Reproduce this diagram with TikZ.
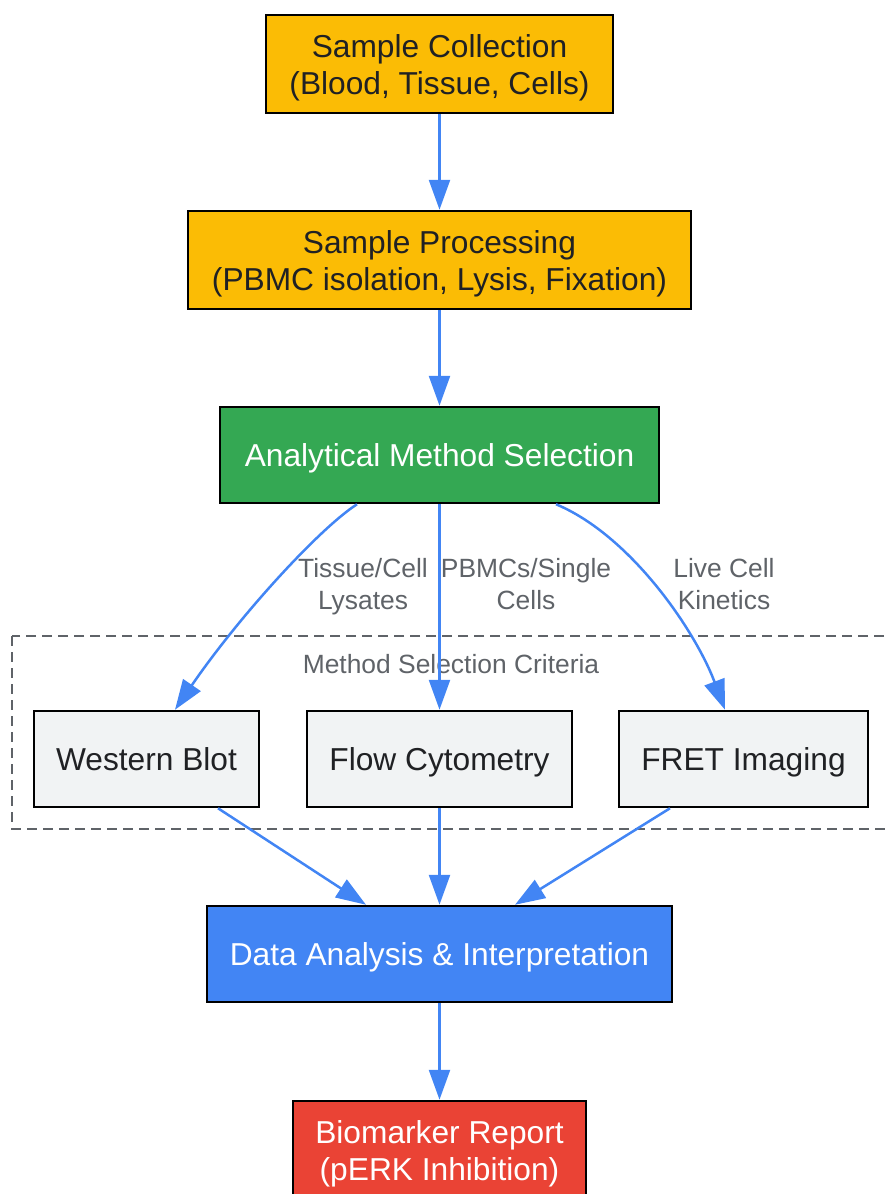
\documentclass[tikz,border=0pt]{standalone}
\usepackage{fontspec}
\setmainfont{Liberation Sans}
\usetikzlibrary{arrows.meta}
\definecolor{gyellow}{HTML}{FBBC05}
\definecolor{ggreen}{HTML}{34A853}
\definecolor{gblue}{HTML}{4285F4}
\definecolor{gred}{HTML}{EA4335}
\definecolor{ggray}{HTML}{F1F3F4}
\definecolor{gtext}{HTML}{202124}
\definecolor{glabel}{HTML}{5F6368}
\newcommand{\bxtop}{\rule{0pt}{30.5pt}}
\newcommand{\bxbot}{\rule[-7pt]{0pt}{0pt}}
\newcommand{\lbtop}{\rule{0pt}{25pt}}
\newcommand{\lbbot}{\rule[-6pt]{0pt}{0pt}}
\tikzset{
  box/.style={draw=black, line width=2.5pt, inner sep=0pt, align=center,
    font=\fontsize{31.7}{37}\selectfont, text=gtext},
  yellowbox/.style={box, fill=gyellow},
  greenbox/.style={box, fill=ggreen, text=white},
  bluebox/.style={box, fill=gblue, text=white},
  redbox/.style={box, fill=gred, text=white},
  graybox/.style={box, fill=ggray},
  flow/.style={draw=gblue, line width=2.5pt, -{Triangle[length=30pt,width=21pt]}},
  elabel/.style={text=glabel, align=center, font=\fontsize{26.4}{32}\selectfont, inner sep=0pt},
  cluster/.style={draw=glabel, line width=2pt, dash pattern=on 10pt off 6pt}
}
\begin{document}
\begin{tikzpicture}[x=1pt,y=-1pt]
\useasboundingbox (0,0) rectangle (887,1194);
\draw[cluster] (12,636) rectangle (895,829);
\node[elabel] (clab) at (451,664) {\lbtop Method Selection Criteria\lbbot};

\node[yellowbox, minimum width=347pt, minimum height=98pt] (sc) at (439.5,64) {\bxtop Sample Collection\\(Blood, Tissue, Cells)\bxbot};
\node[yellowbox, minimum width=503pt, minimum height=98pt] (sp) at (439.5,260) {\bxtop Sample Processing\\(PBMC isolation, Lysis, Fixation)\bxbot};
\node[greenbox, minimum width=439pt, minimum height=96pt] (ams) at (439.5,455) {\bxtop Analytical Method Selection\bxbot};
\node[graybox, minimum width=225pt, minimum height=96pt] (wb) at (146.5,759) {\bxtop Western Blot\bxbot};
\node[graybox, minimum width=265pt, minimum height=96pt] (fc) at (439.5,759) {\bxtop Flow Cytometry\bxbot};
\node[graybox, minimum width=249pt, minimum height=96pt] (fret) at (743.5,759) {\bxtop FRET Imaging\bxbot};
\node[bluebox, minimum width=465pt, minimum height=96pt] (da) at (439.5,954) {\bxtop Data Analysis \& Interpretation\bxbot};
\node[redbox, minimum width=293pt, minimum height=98pt] (br) at (439.5,1150) {\bxtop Biomarker Report\\(pERK Inhibition)\bxbot};

\draw[flow] (sc.south) -- (sp.north);
\draw[flow] (sp.south) -- (ams.north);
\draw[flow] ([xshift=-82.5pt]ams.south) .. controls (320,528) and (240,615) .. ([xshift=28.5pt]wb.north);
\draw[flow] (ams.south) -- (fc.north);
\draw[flow] ([xshift=116.5pt]ams.south) .. controls (630,535) and (695,630) .. ([xshift=-18.5pt]fret.north);
\draw[flow] ([xshift=71.5pt]wb.south) -- ([xshift=-73.5pt]da.north);
\draw[flow] (fc.south) -- (da.north);
\draw[flow] ([xshift=-73.5pt]fret.south) -- ([xshift=75.5pt]da.north);
\draw[flow] (da.south) -- (br.north);

\node[elabel] (l1) at (363,584) {\lbtop Tissue/Cell\\Lysates\lbbot};
\node[elabel] (l2) at (526,584) {\lbtop PBMCs/Single\\Cells\lbbot};
\node[elabel] (l3) at (724,584) {\lbtop Live Cell\\Kinetics\lbbot};
\end{tikzpicture}
\end{document}
